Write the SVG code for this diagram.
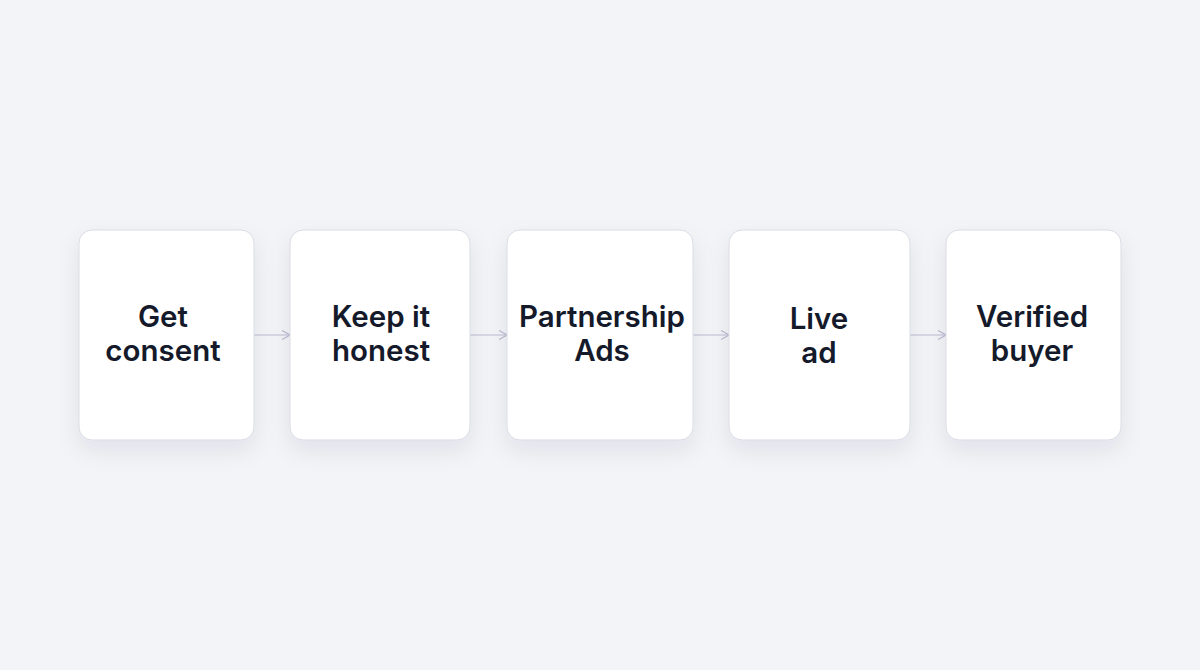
<svg xmlns="http://www.w3.org/2000/svg" width="1200" height="670" viewBox="0 0 1200 670">
  <defs>
    <filter id="sh" x="-30%" y="-30%" width="160%" height="170%">
      <feDropShadow dx="0" dy="10" stdDeviation="11" flood-color="#1b2040" flood-opacity="0.08"/>
    </filter>
    <marker id="arr" viewBox="0 0 10 10" refX="9" refY="5" markerWidth="10" markerHeight="10" markerUnits="userSpaceOnUse" orient="auto">
      <path d="M1,0.5 L9,5 L1,9.5" fill="none" stroke="#b9bbd2" stroke-width="1.2"/>
    </marker>
  </defs>
  <style>
    .box { fill: #ffffff; stroke: #d9dae4; stroke-width: 1; filter: url(#sh); }
    .lbl { font-family: Inter, "Liberation Sans", sans-serif; font-size: 29.5px; font-weight: 600; fill: #151a2b; text-anchor: middle; }
    .conn { stroke: #b9bbd2; stroke-width: 1.2; fill: none; marker-end: url(#arr); }
  </style>
  <rect width="1200" height="670" fill="#f3f4f8"/>
  <g id="connectors">
    <line class="conn" x1="254" y1="335" x2="290" y2="335"/>
    <line class="conn" x1="470" y1="335" x2="507" y2="335"/>
    <line class="conn" x1="693" y1="335" x2="729" y2="335"/>
    <line class="conn" x1="910" y1="335" x2="946" y2="335"/>
  </g>
  <g id="node1">
    <rect class="box" x="79" y="230" width="175" height="210" rx="13"/>
    <text class="lbl" x="163" y="327">Get</text>
    <text class="lbl" x="163" y="361">consent</text>
  </g>
  <g id="node2">
    <rect class="box" x="290" y="230" width="180" height="210" rx="13"/>
    <text class="lbl" x="381" y="327">Keep it</text>
    <text class="lbl" x="381" y="361">honest</text>
  </g>
  <g id="node3">
    <rect class="box" x="507" y="230" width="186" height="210" rx="13"/>
    <text class="lbl" x="602" y="327">Partnership</text>
    <text class="lbl" x="602" y="361">Ads</text>
  </g>
  <g id="node4">
    <rect class="box" x="729" y="230" width="181" height="210" rx="13"/>
    <text class="lbl" x="819" y="329">Live</text>
    <text class="lbl" x="819" y="363">ad</text>
  </g>
  <g id="node5">
    <rect class="box" x="946" y="230" width="175" height="210" rx="13"/>
    <text class="lbl" x="1032" y="327">Verified</text>
    <text class="lbl" x="1032" y="361">buyer</text>
  </g>
</svg>
